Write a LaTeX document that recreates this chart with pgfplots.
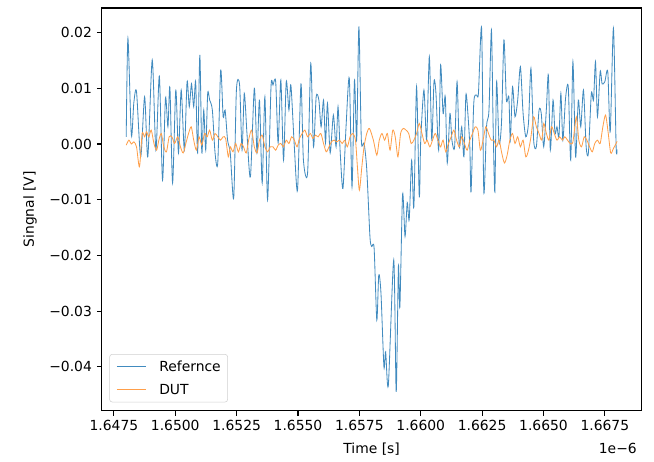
\documentclass[border=0pt]{standalone}
\usepackage{fontspec}
\setmainfont{DejaVu Sans}
\usepackage{pgfplots}
\pgfplotsset{compat=1.18}
\usepackage{pgfplotstable}
\definecolor{tabblue}{HTML}{1F77B4}
\definecolor{taborange}{HTML}{FF7F0E}

\pgfplotstableread{
x y
1.64800 0.0013
1.64807 0.0190
1.64821 0.0016
1.64831 0.0074
1.64842 0.0094
1.64859 -0.0023
1.64875 0.0085
1.64888 -0.0023
1.64906 0.0151
1.64921 -0.0011
1.64935 0.0122
1.64948 -0.0065
1.64960 0.0083
1.64970 0.0031
1.64978 0.0102
1.64989 -0.0070
1.65002 0.0097
1.65013 -0.0016
1.65024 0.0097
1.65037 -0.0011
1.65048 0.0112
1.65057 0.0067
1.65066 0.0108
1.65075 0.0067
1.65083 0.0112
1.65091 -0.0016
1.65100 0.0160
1.65108 -0.0016
1.65116 0.0061
1.65124 -0.0011
1.65132 0.0091
1.65140 0.0079
1.65151 0.0061
1.65162 -0.0016
1.65173 -0.0034
1.65185 0.0133
1.65195 0.0049
1.65203 0.0061
1.65213 0.0007
1.65224 -0.0016
1.65238 -0.0097
1.65249 0.0097
1.65262 0.0106
1.65272 -0.0011
1.65281 0.0091
1.65292 0.0019
1.65306 -0.0059
1.65322 0.0100
1.65333 -0.0016
1.65343 0.0079
1.65354 -0.0070
1.65365 0.0085
1.65376 -0.0100
1.65390 0.0103
1.65398 0.0106
1.65409 0.0112
1.65419 0.0002
1.65430 0.0115
1.65441 -0.0029
1.65452 0.0112
1.65463 0.0061
1.65471 0.0106
1.65485 -0.0005
1.65498 -0.0083
1.65512 0.0108
1.65522 -0.0029
1.65539 -0.0052
1.65552 0.0145
1.65563 -0.0005
1.65574 0.0085
1.65585 0.0079
1.65594 0.0031
1.65604 0.0079
1.65612 0.0002
1.65620 0.0073
1.65631 -0.0016
1.65644 0.0052
1.65655 -0.0005
1.65663 0.0067
1.65672 -0.0016
1.65683 -0.0080
1.65696 0.0034
1.65709 0.0118
1.65720 -0.0077
1.65730 0.0115
1.65739 0.0007
1.65748 0.0211
1.65758 0.0007
1.65769 0.0002
1.65780 -0.0045
1.65793 -0.0166
1.65800 -0.0184
1.65810 -0.0187
1.65821 -0.0316
1.65829 -0.0235
1.65838 -0.0268
1.65850 -0.0400
1.65857 -0.0373
1.65868 -0.0433
1.65890 -0.0208
1.65900 -0.0445
1.65909 -0.0220
1.65915 -0.0293
1.65926 -0.0090
1.65936 -0.0166
1.65945 -0.0105
1.65953 -0.0136
1.65963 -0.0029
1.65972 -0.0113
1.65983 0.0103
1.65994 -0.0095
1.66000 0.0007
1.66013 0.0097
1.66024 0.0007
1.66035 0.0157
1.66045 0.0007
1.66054 0.0112
1.66062 0.0091
1.66073 -0.0011
1.66081 0.0142
1.66091 0.0055
1.66100 0.0085
1.66108 -0.0034
1.66119 0.0055
1.66127 0.0007
1.66138 -0.0005
1.66148 0.0112
1.66157 -0.0005
1.66167 0.0031
1.66176 -0.0023
1.66184 0.0088
1.66192 0.0055
1.66200 -0.0005
1.66205 -0.0086
1.66216 0.0073
1.66227 0.0088
1.66235 0.0091
1.66248 0.0208
1.66257 -0.0086
1.66268 0.0031
1.66278 0.0061
1.66288 0.0205
1.66295 0.0031
1.66302 -0.0086
1.66309 0.0112
1.66319 0.0002
1.66329 0.0038
1.66339 0.0187
1.66349 0.0079
1.66359 0.0085
1.66365 0.0007
1.66374 0.0103
1.66384 0.0049
1.66395 0.0079
1.66406 0.0139
1.66417 0.0055
1.66428 0.0013
1.66439 0.0038
1.66449 0.0136
1.66460 0.0007
1.66471 -0.0005
1.66482 0.0061
1.66491 0.0055
1.66501 -0.0005
1.66512 0.0064
1.66520 0.0124
1.66528 -0.0011
1.66539 0.0079
1.66547 0.0019
1.66555 0.0031
1.66563 0.0013
1.66571 0.0091
1.66579 0.0007
1.66590 0.0082
1.66601 0.0103
1.66611 -0.0029
1.66620 0.0148
1.66631 -0.0023
1.66642 0.0079
1.66652 0.0031
1.66663 0.0097
1.66674 -0.0005
1.66683 -0.0016
1.66695 0.0091
1.66704 0.0079
1.66712 0.0148
1.66720 0.0049
1.66731 0.0130
1.66739 0.0108
1.66750 0.0112
1.66762 0.0130
1.66772 0.0022
1.66785 0.0208
1.66796 -0.0005
1.66800 -0.0010
}\refdata

\pgfplotstableread{
x y
1.64800 -0.0002
1.64811 0.0007
1.64821 0.0000
1.64831 0.0004
1.64842 -0.0005
1.64854 -0.0041
1.64865 0.0019
1.64875 0.0013
1.64883 0.0022
1.64892 0.0013
1.64902 0.0025
1.64913 0.0001
1.64924 -0.0011
1.64933 0.0007
1.64943 0.0019
1.64953 -0.0005
1.64964 -0.0014
1.64975 0.0013
1.64986 0.0013
1.64997 0.0001
1.65010 0.0013
1.65021 -0.0005
1.65032 -0.0016
1.65043 0.0001
1.65054 0.0019
1.65065 0.0031
1.65075 0.0007
1.65086 -0.0011
1.65097 0.0013
1.65108 -0.0002
1.65119 0.0019
1.65130 0.0013
1.65140 0.0025
1.65151 0.0007
1.65162 0.0019
1.65173 0.0013
1.65184 0.0007
1.65195 0.0013
1.65205 0.0010
1.65216 -0.0023
1.65224 -0.0005
1.65235 -0.0014
1.65246 0.0001
1.65257 -0.0014
1.65268 0.0001
1.65278 -0.0005
1.65289 -0.0016
1.65300 0.0010
1.65311 0.0025
1.65322 -0.0005
1.65333 -0.0016
1.65343 0.0007
1.65354 0.0016
1.65365 -0.0005
1.65376 -0.0014
1.65387 -0.0005
1.65398 -0.0005
1.65409 -0.0011
1.65419 -0.0002
1.65430 0.0001
1.65441 -0.0005
1.65452 0.0007
1.65463 0.0001
1.65474 0.0013
1.65485 0.0007
1.65496 -0.0005
1.65506 0.0010
1.65517 0.0019
1.65528 0.0025
1.65539 0.0013
1.65550 0.0019
1.65561 0.0010
1.65571 0.0016
1.65582 0.0013
1.65593 0.0019
1.65604 0.0001
1.65615 -0.0014
1.65626 -0.0005
1.65636 0.0004
1.65647 0.0007
1.65658 0.0004
1.65669 0.0007
1.65680 0.0001
1.65691 0.0007
1.65701 -0.0005
1.65712 0.0013
1.65723 0.0019
1.65734 0.0007
1.65742 -0.0041
1.65750 -0.0083
1.65760 -0.0041
1.65769 -0.0005
1.65780 0.0019
1.65791 0.0028
1.65807 0.0007
1.65821 -0.0020
1.65831 0.0007
1.65842 0.0019
1.65853 0.0007
1.65864 0.0019
1.65875 -0.0011
1.65886 0.0025
1.65896 0.0013
1.65907 -0.0023
1.65918 0.0019
1.65929 0.0028
1.65940 0.0025
1.65951 0.0019
1.65961 0.0001
1.65972 0.0007
1.65983 0.0019
1.65994 0.0037
1.66005 0.0019
1.66016 0.0001
1.66026 0.0007
1.66037 -0.0005
1.66048 0.0007
1.66059 0.0019
1.66070 0.0007
1.66081 -0.0005
1.66091 0.0007
1.66102 -0.0014
1.66113 0.0001
1.66124 0.0013
1.66135 0.0025
1.66146 0.0007
1.66157 -0.0005
1.66167 0.0013
1.66178 0.0001
1.66189 -0.0011
1.66200 0.0007
1.66211 0.0019
1.66222 0.0031
1.66233 0.0025
1.66243 -0.0011
1.66254 0.0007
1.66265 0.0031
1.66276 0.0019
1.66287 0.0007
1.66298 0.0007
1.66309 -0.0005
1.66319 0.0007
1.66330 -0.0016
1.66341 -0.0034
1.66352 -0.0020
1.66363 0.0007
1.66374 0.0019
1.66384 0.0001
1.66395 0.0013
1.66406 -0.0005
1.66417 0.0007
1.66428 -0.0023
1.66439 -0.0011
1.66449 0.0013
1.66460 0.0049
1.66471 0.0031
1.66482 0.0019
1.66493 0.0007
1.66501 0.0037
1.66512 0.0019
1.66522 0.0007
1.66533 0.0031
1.66544 0.0019
1.66555 0.0007
1.66566 0.0013
1.66577 0.0007
1.66587 0.0013
1.66598 0.0007
1.66609 0.0001
1.66620 0.0004
1.66634 0.0049
1.66644 0.0007
1.66655 -0.0005
1.66666 0.0013
1.66677 0.0007
1.66688 -0.0005
1.66699 -0.0014
1.66709 0.0001
1.66720 0.0007
1.66731 0.0001
1.66742 0.0031
1.66753 0.0052
1.66764 0.0019
1.66774 -0.0016
1.66785 -0.0008
1.66796 0.0001
1.66800 0.0005
}\dutdata

\begin{document}
\begin{tikzpicture}
\begin{axis}[
  scale only axis,
  width=388.8pt, height=289.9pt,
  xmin=1.647, xmax=1.669,
  ymin=-0.04788, ymax=0.02442,
  scaled x ticks=false, scaled y ticks=false,
  xtick={1.6475,1.65,1.6525,1.655,1.6575,1.66,1.6625,1.665,1.6675},
  xticklabels={1.6475,1.6500,1.6525,1.6550,1.6575,1.6600,1.6625,1.6650,1.6675},
  ytick={-0.04,-0.03,-0.02,-0.01,0,0.01,0.02},
  yticklabels={−0.04,−0.03,−0.02,−0.01,0.00,0.01,0.02},
  tick align=outside,
  major tick length=3.5pt,
  xtick pos=bottom, ytick pos=left,
  every tick/.style={black, line width=0.8pt},
  axis line style={line width=0.8pt},
  xlabel={Time [s]},
  ylabel={Singnal [V]},
  xlabel style={at={(axis description cs:0.5,0)}, anchor=base, yshift=-31pt},
  ylabel style={at={([xshift=-51.6pt]axis description cs:0,0.5)}, anchor=center},
  legend cell align=left,
  legend image code/.code={\draw[#1, line width=0.6pt] (0pt,0pt) -- (20.9pt,0pt); \path[draw=none, fill=none] (0pt,0pt) (30.5pt,0pt);},
  legend style={at={(axis description cs:0,0)}, anchor=south west,
    xshift=5.5pt, yshift=6pt, draw=black!18, rounded corners=2pt,
    fill=white, fill opacity=0.8, text opacity=1, draw opacity=1,
    inner xsep=5pt, inner ysep=5pt, row sep=9.2pt,
    nodes={inner sep=0pt, text height=7.3pt, text depth=0.3pt}},
]
\addplot[tabblue!85!white, line width=0.6pt, smooth, tension=0.45] table {\refdata};
\addplot[taborange!75!white, line width=0.6pt, smooth, tension=0.45] table {\dutdata};
\legend{Refernce, DUT}
\end{axis}
\node[anchor=base east] at ([yshift=-31pt]current axis.south east) {1e−6};
\pgfresetboundingbox
\useasboundingbox ([xshift=-73.2pt,yshift=-36.9pt]current axis.south west) rectangle ([xshift=8.9pt,yshift=5.8pt]current axis.north east);
\end{tikzpicture}
\end{document}
